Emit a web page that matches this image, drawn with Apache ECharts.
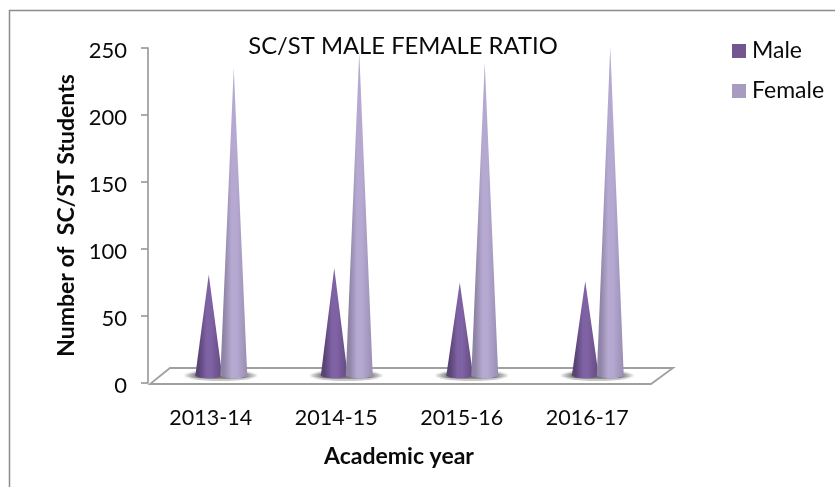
<!DOCTYPE html>
<html><head><meta charset="utf-8">
<script src="https://cdn.jsdelivr.net/npm/echarts@6/dist/echarts.min.js"></script>
<style>html,body{margin:0;padding:0;background:#fff}#c{width:835px;height:487px}</style>
</head><body><div id="c"></div>
<script>
const categories = ['2013-14','2014-15','2015-16','2016-17'];
const male = [75, 80, 69, 70];
const female = [229, 241, 233, 245];
const FONT = 'Lato';
const INK = '#0a0a0a';
const chart = echarts.init(document.getElementById('c'));

function grad(edgeL, mid, edgeR){
  return new echarts.graphic.LinearGradient(0,0,1,0,[
    {offset:0,color:edgeL},{offset:.14,color:edgeL},{offset:.42,color:mid},{offset:.6,color:mid},{offset:1,color:edgeR}]);
}
function cone(dx, fill){
  return function(params, api){
    const top = api.coord([api.value(0), api.value(1)]);
    const base = api.coord([api.value(0), 0]);
    const cx = base[0]+dx, by = base[1]-7, ty = top[1]-8, hw = 13.5, k = 2.5;
    return {type:'path', shape:{
      pathData:`M ${cx} ${ty} L ${cx+hw} ${by} Q ${cx} ${by+k*2} ${cx-hw} ${by} Z`,
      x:cx-hw, y:ty, width:2*hw, height:by+k-ty
    }, style:{fill:fill}};
  };
}
function shadeFill(c){
  return new echarts.graphic.LinearGradient(0,0,1,0,[
    {offset:0,color:'rgba(110,110,110,0)'},{offset:.2,color:c},{offset:.8,color:c},{offset:1,color:'rgba(110,110,110,0)'}]);
}
function shadow(params, api){
  const base = api.coord([api.value(0), 0]);
  const cx = base[0]+10, cy = base[1]-7.5;
  return {type:'group', children:[
    {type:'ellipse', shape:{cx:cx, cy:cy, rx:38, ry:5.5}, style:{fill:shadeFill('rgba(120,120,120,.4)')}},
    {type:'ellipse', shape:{cx:cx, cy:cy, rx:37, ry:3.2}, style:{fill:shadeFill('rgba(100,100,100,.8)')}}
  ]};
}
function floor(params, api){
  const a = api.coord([0,0]);
  const L = params.coordSys.x, R = L+params.coordSys.width, y = a[1];
  return {type:'polygon', shape:{points:[[L+2,y+1],[R+1,y+1],[R+23,y-15],[L+22,y-15]]},
    style:{fill:'#fff', stroke:'#a0a0a0', lineWidth:1.8}};
}
const catData = categories.map((c,i)=>[i]);
chart.setOption({
  animation:false,
  backgroundColor:'#fff',
  graphic:[{type:'rect',z:-1,shape:{x:9.5,y:10.5,width:900,height:600},style:{fill:'none',stroke:'#8c8c8c',lineWidth:1.5}}],
  title:{text:'SC/ST MALE FEMALE RATIO',left:398,top:29,textAlign:'center',
    textStyle:{fontFamily:FONT,fontWeight:'normal',fontSize:23.8,color:INK}},
  legend:{left:727,top:33,orient:'vertical',itemWidth:14,itemHeight:14,itemGap:14,icon:'rect',
    data:['Male','Female'],textStyle:{fontFamily:FONT,fontSize:23,color:INK,padding:[0,0,0,1],height:26,lineHeight:26}},
  grid:{left:148,top:48,width:502,height:335},
  xAxis:{type:'category',data:categories,name:'Academic year',nameLocation:'middle',nameGap:62,
    nameTextStyle:{fontFamily:FONT,fontWeight:'bold',fontSize:23,color:INK},
    axisLine:{show:false},axisTick:{show:false},
    axisLabel:{fontFamily:FONT,fontSize:21.5,color:INK,margin:24}},
  yAxis:{type:'value',min:0,max:250,interval:50,name:'Number of  SC/ST Students',nameLocation:'middle',nameGap:69,
    nameTextStyle:{fontFamily:FONT,fontWeight:'bold',fontSize:23,color:INK},
    axisLine:{show:true,lineStyle:{color:'#969696',width:1.6}},
    axisTick:{show:true,length:7,lineStyle:{color:'#969696',width:1.6}},
    splitLine:{show:false},
    axisLabel:{fontFamily:FONT,fontSize:22,color:INK,margin:21,verticalAlign:'top',lineHeight:22,padding:[-8,0,0,0]}},
  series:[
    {type:'custom',silent:true,z:1,renderItem:floor,data:[[0]],encode:{x:0},tooltip:{show:false}},
    {type:'custom',silent:true,z:2,renderItem:shadow,data:catData,encode:{x:0}},
    {name:'Male',type:'custom',z:3,itemStyle:{color:'#735590'},
      renderItem:cone(-2,grad('#5a4476','#7f62a3','#62497f')),
      data:male.map((v,i)=>[i,v]),encode:{x:0,y:1}},
    {name:'Female',type:'custom',z:4,itemStyle:{color:'#a99bc0'},
      renderItem:cone(23,grad('#8f84a5','#b6a9d1','#9a8db4')),
      data:female.map((v,i)=>[i,v]),encode:{x:0,y:1}}
  ]
});
</script></body></html>
